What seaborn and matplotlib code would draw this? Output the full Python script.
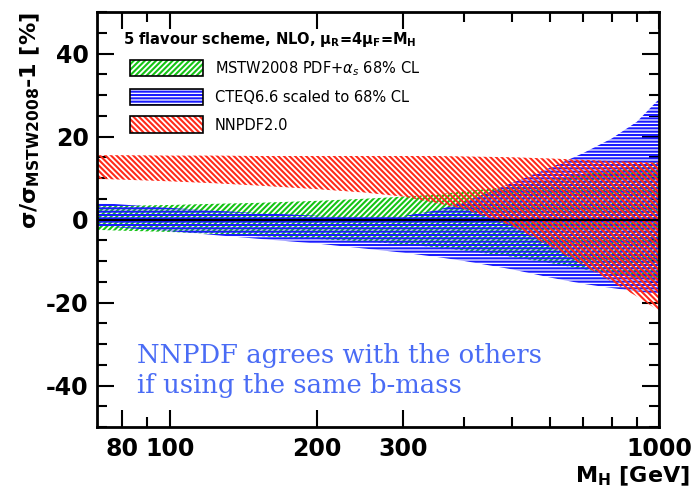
import matplotlib
matplotlib.use('Agg')
import matplotlib.pyplot as plt
from matplotlib.patches import Patch
from matplotlib.legend_handler import HandlerTuple
from matplotlib.ticker import FixedLocator, FixedFormatter, NullFormatter, MultipleLocator
import seaborn as sns

# Higgs mass points [GeV]
masses = [71, 80, 100, 125, 150, 200, 250, 300, 350, 400, 500, 600, 700, 800, 900, 1000]

# MSTW2008 PDF+alpha_s 68% CL band [%]
mstw_up = [3.2, 3.3, 3.5, 3.8, 4.0, 4.5, 5.0, 5.5, 6.0, 6.8, 8.0, 9.5, 11.0, 12.0, 13.0, 14.0]
mstw_lo = [-2.5, -2.7, -3.0, -3.5, -4.0, -4.7, -5.3, -6.0, -6.7, -7.5, -9.0, -10.5, -12.0, -13.0, -14.0, -15.0]

# CTEQ6.6 scaled to 68% CL band [%]
cteq_up = [4.0, 3.6, 2.8, 2.1, 1.6, 0.9, 0.6, 0.8, 2.2, 4.2, 8.8, 12.5, 16.0, 19.5, 23.5, 29.0]
cteq_lo = [-1.5, -2.0, -2.8, -3.8, -4.6, -5.8, -7.0, -8.0, -9.0, -10.0, -12.0, -14.0, -15.5, -16.5, -17.3, -18.0]

# NNPDF2.0 band [%]
nnpdf_up = [15.5, 15.5, 15.4, 15.4, 15.3, 15.3, 15.3, 15.3, 15.3, 15.2, 15.0, 14.7, 14.4, 14.1, 13.9, 13.7]
nnpdf_lo = [9.8, 9.6, 9.2, 8.7, 8.2, 7.3, 6.5, 5.5, 4.0, 2.5, -1.5, -6.5, -11.0, -15.0, -18.5, -22.0]

labels = [r'MSTW2008 PDF+$\alpha_s$ 68% CL', 'CTEQ6.6 scaled to 68% CL', 'NNPDF2.0']
colors = ['#14c414', '#1a1aff', '#ff2a1a']
hatches = ['//////', '-----', '\\\\\\\\\\\\']

x_ticks = [80, 100, 200, 300, 1000]
x_minor = [90, 400, 500, 600, 700, 800, 900]

sns.set_style('ticks')
plt.rcParams['font.family'] = ['DejaVu Sans']
plt.rcParams['hatch.linewidth'] = 1.5
plt.rcParams['axes.unicode_minus'] = False

fig = plt.figure(figsize=(6.95, 4.95), dpi=100)
ax = fig.add_axes([97 / 695, 1 - 427 / 495, 562 / 695, 415 / 495])

bands = [(mstw_lo, mstw_up), (cteq_lo, cteq_up), (nnpdf_lo, nnpdf_up)]
for (lo, hi), c, h in zip(bands, colors, hatches):
    ax.fill_between(masses, lo, hi, facecolor='none', edgecolor=c, hatch=h, linewidth=0)

ax.axhline(0, color='black', lw=1.5, zorder=3)

ax.set_xscale('log')
ax.set_xlim(71, 1000)
ax.set_ylim(-50, 50)
ax.xaxis.set_major_locator(FixedLocator(x_ticks))
ax.xaxis.set_major_formatter(FixedFormatter([str(t) for t in x_ticks]))
ax.xaxis.set_minor_locator(FixedLocator(x_minor))
ax.xaxis.set_minor_formatter(NullFormatter())
ax.yaxis.set_major_locator(MultipleLocator(20))
ax.yaxis.set_minor_locator(MultipleLocator(5))

ax.tick_params(which='both', direction='in', right=True, top=True, width=1.5,
               color='black', labelcolor='black', labelsize=17)
ax.tick_params(which='major', length=12)
ax.tick_params(which='minor', length=7)
ax.tick_params(axis='x', pad=7)
ax.tick_params(axis='y', pad=6)
for lab in ax.get_xticklabels() + ax.get_yticklabels():
    lab.set_fontweight('bold')
for s in ax.spines.values():
    s.set_linewidth(2)
    s.set_color('black')

ax.set_ylabel(r'σ/σ$_{\mathbf{MSTW2008}}$-1 [%]', fontsize=16, fontweight='bold',
              color='black', loc='top')
ax.yaxis.set_label_coords(-0.097, 1.0)
ax.set_xlabel(r'M$_{\mathbf{H}}$ [GeV]', fontsize=16, fontweight='bold',
              color='black', loc='right')
ax.xaxis.set_label_coords(1.055, -0.09)

# legend: coloured hatch patch overlaid with a black frame
handles = []
for c, h in zip(colors, hatches):
    handles.append((Patch(facecolor='white', edgecolor=c, hatch=h, linewidth=0),
                    Patch(facecolor='none', edgecolor='black', linewidth=1.2)))
leg = ax.legend(handles, labels, handler_map={tuple: HandlerTuple(ndivide=1)},
                loc='upper left', bbox_to_anchor=(0.059, 0.887), frameon=False,
                fontsize=10.5, handlelength=5, handleheight=1.4, labelspacing=0.75,
                borderpad=0, borderaxespad=0, handletextpad=0.8)
for t in leg.get_texts():
    t.set_color('black')
ax.text(0.046, 0.933, r'5 flavour scheme, NLO, $\mathbf{\mu_R}$=4$\mathbf{\mu_F}$=M$_\mathbf{H}$',
        transform=ax.transAxes, fontsize=10.5, fontweight='bold', va='center', color='black')

ax.text(0.071, 0.135, 'NNPDF agrees with the others\nif using the same b-mass',
        transform=ax.transAxes, fontsize=18.6, color='#4a6cf5',
        family=['DejaVu Serif'], linespacing=1.25, va='center')

fig.savefig('out.png', dpi=100)
